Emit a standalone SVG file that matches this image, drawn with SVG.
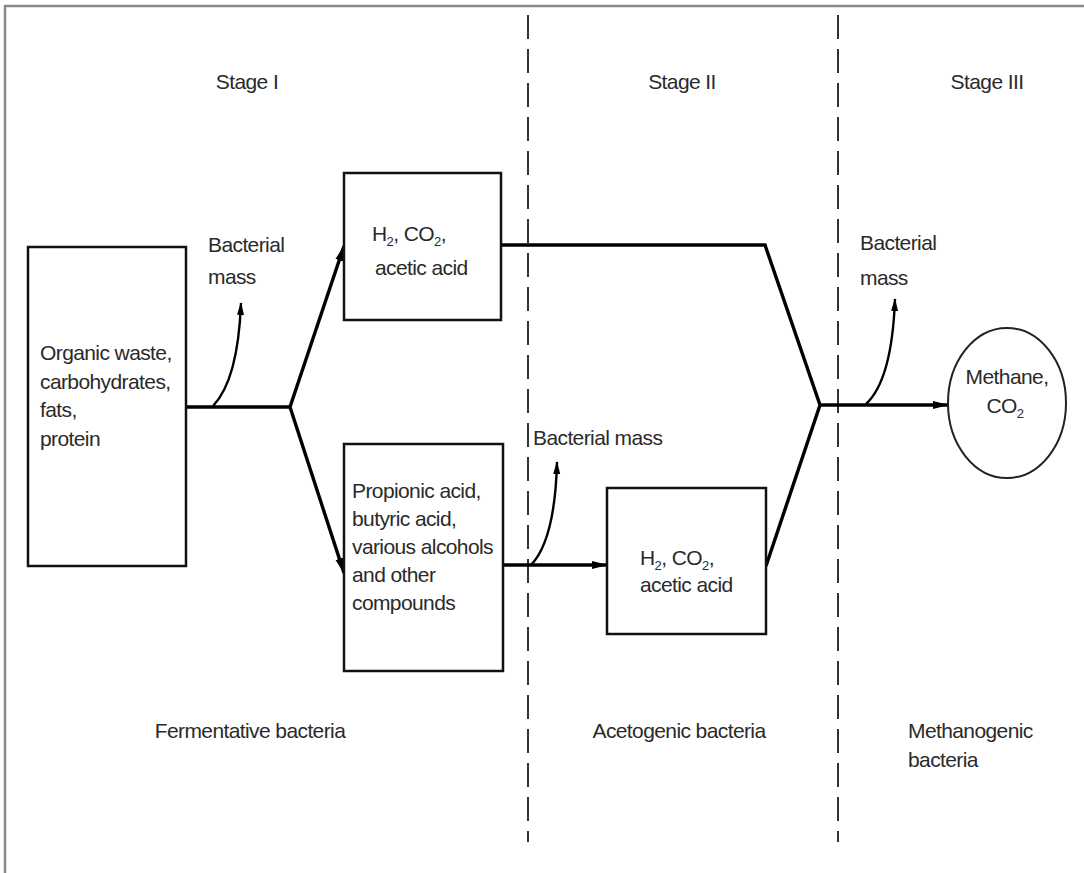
<svg xmlns="http://www.w3.org/2000/svg" width="1084" height="873" viewBox="0 0 1084 873">
<style>
text{font-family:"Liberation Sans",Arial,sans-serif;font-size:21px;fill:#2a2a2a;letter-spacing:-0.6px}
.sub{font-size:13px}
.box{fill:#fff;stroke:#111;stroke-width:2.5}
.ln{fill:none;stroke:#000;stroke-width:3.4;stroke-linejoin:miter}
.cv{fill:none;stroke:#000;stroke-width:2.4}
.dash{stroke:#333;stroke-width:2;stroke-dasharray:24 10}
.c{text-anchor:middle}
</style>
<defs>
<marker id="ah" viewBox="0 0 16 9" refX="15" refY="4.5" markerWidth="16" markerHeight="9" markerUnits="userSpaceOnUse" orient="auto">
<path d="M0,0.5 L16,4.5 L0,8.5 Z" fill="#000"/>
</marker>
<marker id="ahs" viewBox="0 0 13 8" refX="12" refY="4" markerWidth="13" markerHeight="8" markerUnits="userSpaceOnUse" orient="auto">
<path d="M0,0.5 L13,4 L0,7.5 Z" fill="#000"/>
</marker>
</defs>
<rect width="1084" height="873" fill="#fff"/>
<path d="M5,873 V6 H1084" fill="none" stroke="#8a8a8a" stroke-width="2.5"/>
<g id="dividers">
<line class="dash" x1="528" y1="15" x2="528" y2="842"/>
<line class="dash" x1="838" y1="15" x2="838" y2="842"/>
</g>
<g id="stage-labels">
<text class="c" x="247" y="89">Stage I</text>
<text class="c" x="682" y="89">Stage II</text>
<text class="c" x="987" y="89">Stage III</text>
<text class="c" x="250" y="738">Fermentative bacteria</text>
<text class="c" x="679" y="738">Acetogenic bacteria</text>
<text x="908" y="738">Methanogenic</text>
<text x="908" y="767">bacteria</text>
</g>
<g id="connectors">
<path class="ln" d="M186,407 H290"/>
<path class="ln" d="M290,407 L344,246" marker-end="url(#ah)"/>
<path class="ln" d="M290,407 L344,573" marker-end="url(#ah)"/>
<path class="ln" d="M501,245 H765 L820,405 L766,566"/>
<path class="ln" d="M503,565 H607" marker-end="url(#ah)"/>
<path class="ln" d="M820,405 H948" marker-end="url(#ah)"/>
<path class="cv" d="M213,406 Q238,380 241,303" marker-end="url(#ahs)"/>
<path class="cv" d="M531,565 Q555,540 557,462" marker-end="url(#ahs)"/>
<path class="cv" d="M866,404 Q892,380 895,299" marker-end="url(#ahs)"/>
</g>
<g id="label-bm1">
<text x="208" y="252">Bacterial</text>
<text x="208" y="284">mass</text>
</g>
<g id="label-bm2">
<text x="533" y="445">Bacterial mass</text>
</g>
<g id="label-bm3">
<text x="860" y="250">Bacterial</text>
<text x="860" y="285">mass</text>
</g>
<g id="node-organic">
<rect class="box" x="28" y="247" width="158" height="319"/>
<text x="40" y="360">Organic waste,</text>
<text x="40" y="389">carbohydrates,</text>
<text x="40" y="417">fats,</text>
<text x="40" y="446">protein</text>
</g>
<g id="node-h2-top">
<rect class="box" x="344" y="173" width="157" height="147"/>
<text x="372" y="241">H<tspan class="sub" dy="5">2</tspan><tspan dy="-5">, CO</tspan><tspan class="sub" dy="5">2</tspan><tspan dy="-5">,</tspan></text>
<text x="375" y="275">acetic acid</text>
</g>
<g id="node-acids">
<rect class="box" x="344" y="444" width="159" height="227"/>
<text x="352" y="498">Propionic acid,</text>
<text x="352" y="526">butyric acid,</text>
<text x="352" y="554">various alcohols</text>
<text x="352" y="582">and other</text>
<text x="352" y="610">compounds</text>
</g>
<g id="node-h2-bottom">
<rect class="box" x="607" y="488" width="159" height="146"/>
<text x="640" y="565">H<tspan class="sub" dy="5">2</tspan><tspan dy="-5">, CO</tspan><tspan class="sub" dy="5">2</tspan><tspan dy="-5">,</tspan></text>
<text x="640" y="592">acetic acid</text>
</g>
<g id="node-methane">
<ellipse cx="1007" cy="403" rx="59" ry="75" fill="#fff" stroke="#222" stroke-width="2"/>
<text class="c" x="1007" y="384">Methane,</text>
<text class="c" x="1005" y="413">CO<tspan class="sub" dy="5">2</tspan></text>
</g>
</svg>
